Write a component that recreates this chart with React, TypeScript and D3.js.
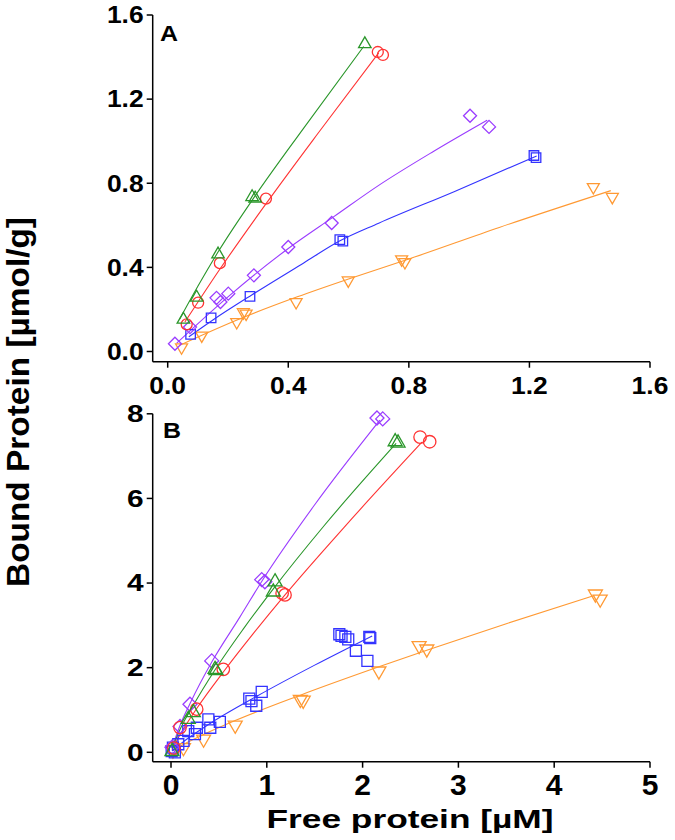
import React from "react";
import * as d3 from "d3";

type P = [number, number];

// ---------- Panel A data ----------
const greenA: P[] = [[0.052, 0.152], [0.096, 0.257], [0.167, 0.462], [0.28, 0.735], [0.29, 0.728], [0.654, 1.462]];
const redA: P[] = [[0.063, 0.129], [0.101, 0.232], [0.173, 0.42], [0.326, 0.727], [0.697, 1.424], [0.714, 1.41]];
const purpleA: P[] = [[0.024, 0.037], [0.074, 0.116], [0.162, 0.255], [0.175, 0.235], [0.201, 0.275], [0.286, 0.362], [0.40, 0.497], [0.544, 0.611], [1.003, 1.121], [1.066, 1.068]];
const blueA: P[] = [[0.076, 0.081], [0.144, 0.16], [0.273, 0.262], [0.571, 0.532], [0.581, 0.525], [1.215, 0.932], [1.222, 0.922]];
const orangeA: P[] = [[0.046, 0.02], [0.113, 0.076], [0.229, 0.14], [0.251, 0.187], [0.26, 0.18], [0.426, 0.235], [0.599, 0.338], [0.776, 0.438], [0.787, 0.425], [1.412, 0.782], [1.475, 0.735]];

const greenFitA: P[] = [[0.04, 0.155], [0.1, 0.31], [0.17, 0.48], [0.29, 0.74], [0.45, 1.06], [0.65, 1.45]];
const redFitA: P[] = [[0.057, 0.14], [0.17, 0.385], [0.33, 0.71], [0.5, 1.04], [0.70, 1.42]];
const purpleFitA: P[] = [[0.03, 0.04], [0.2, 0.26], [0.4, 0.49], [0.55, 0.64], [0.7, 0.79], [0.88, 0.95], [1.06, 1.10]];
const blueFitA: P[] = [[0.07, 0.07], [0.15, 0.15], [0.28, 0.27], [0.45, 0.42], [0.57, 0.525], [0.7, 0.61], [0.95, 0.76], [1.224, 0.93]];
const orangeFitA: P[] = [[0.04, 0.03], [0.23, 0.15], [0.43, 0.26], [0.6, 0.345], [0.79, 0.435], [1.1, 0.59], [1.47, 0.765]];

// ---------- Panel B data ----------
const purpleB: P[] = [[0.01, 0.12], [0.094, 0.61], [0.198, 1.136], [0.425, 2.16], [0.947, 4.08], [0.98, 4.03], [2.15, 7.9], [2.21, 7.88]];
const greenB: P[] = [[0.01, 0.02], [0.18, 0.78], [0.233, 0.94], [0.46, 1.96], [0.47, 1.93], [1.068, 3.79], [1.086, 4.03], [2.34, 7.34], [2.37, 7.31]];
const redB: P[] = [[0.03, 0.1], [0.094, 0.585], [0.268, 1.02], [0.546, 1.96], [1.16, 3.76], [1.19, 3.72], [2.60, 7.45], [2.70, 7.34]];
const blueB: P[] = [[0.04, 0.0], [0.007, 0.03], [0.02, 0.11], [0.076, 0.19], [0.13, 0.27], [0.18, 0.5], [0.25, 0.43], [0.27, 0.58], [0.39, 0.78], [0.41, 0.58], [0.51, 0.72], [0.817, 1.27], [0.84, 1.21], [0.89, 1.1], [0.947, 1.43], [1.757, 2.79], [1.78, 2.75], [1.82, 2.73], [1.85, 2.67], [1.93, 2.4], [2.05, 2.16], [2.07, 2.73], [2.08, 2.70]];
const orangeB: P[] = [[0.02, 0.05], [0.13, 0.11], [0.34, 0.31], [0.67, 0.64], [1.35, 1.25], [1.38, 1.23], [2.17, 1.92], [2.59, 2.52], [2.67, 2.44], [4.43, 3.74], [4.48, 3.62]];

const purpleFitB: P[] = [[0.01, 0.1], [0.1, 0.67], [0.2, 1.16], [0.43, 2.15], [0.72, 3.2], [0.95, 4.05], [1.5, 5.85], [2.18, 7.85]];
const greenFitB: P[] = [[0.01, 0.09], [0.1, 0.57], [0.23, 1.1], [0.46, 1.95], [0.75, 2.9], [1.07, 3.87], [1.6, 5.36], [2.35, 7.3]];
const redFitB: P[] = [[0.01, 0.06], [0.1, 0.44], [0.27, 1.04], [0.55, 1.91], [0.85, 2.78], [1.19, 3.72], [1.8, 5.3], [2.62, 7.33]];
const blueFitB: P[] = [[0.01, 0.03], [0.1, 0.2], [0.4, 0.67], [0.9, 1.33], [1.5, 2.06], [2.1, 2.75]];
const orangeFitB: P[] = [[0.02, 0.04], [0.1, 0.15], [0.35, 0.43], [0.67, 0.75], [1.35, 1.35], [2.17, 2.02], [2.67, 2.41], [3.5, 3.04], [4.41, 3.7]];

// ---------- ticks ----------
const xTicksA = [0, 0.4, 0.8, 1.2, 1.6];
const yTicksA = [0, 0.4, 0.8, 1.2, 1.6];
const xTicksB = [0, 1, 2, 3, 4, 5];
const yTicksB = [0, 2, 4, 6, 8];

const xTitle = "Free protein [µM]";
const yTitle = "Bound Protein [µmol/g]";

const C = {
  red: "#ff3333",
  green: "#2a962a",
  purple: "#9a3cff",
  blue: "#3333ff",
  orange: "#ff9933",
};

const FONT = "'Liberation Sans', Arial, Helvetica, sans-serif";

type Shape = "circle" | "tri" | "tridown" | "diamond" | "square";

function markerPath(shape: Shape, s: number): string {
  const p = d3.path();
  if (shape === "circle") {
    p.arc(0, 0, s / 2, 0, Math.PI * 2);
    p.closePath();
  } else if (shape === "square") {
    const h = s / 2;
    p.rect(-h, -h, s, s);
  } else if (shape === "diamond") {
    const h = s / 2;
    p.moveTo(0, -h); p.lineTo(h, 0); p.lineTo(0, h); p.lineTo(-h, 0); p.closePath();
  } else if (shape === "tri") {
    const h = (s * Math.sqrt(3)) / 2;
    p.moveTo(0, -h * 2 / 3); p.lineTo(s / 2, h / 3); p.lineTo(-s / 2, h / 3); p.closePath();
  } else {
    const h = (s * Math.sqrt(3)) / 2;
    p.moveTo(0, h * 2 / 3); p.lineTo(s / 2, -h / 3); p.lineTo(-s / 2, -h / 3); p.closePath();
  }
  return p.toString();
}

interface Series { pts: P[]; fit: P[]; color: string; shape: Shape; size: number; }

interface PanelProps {
  x: d3.ScaleLinear<number, number>;
  y: d3.ScaleLinear<number, number>;
  axisX: number;
  axisY: number;
  xTicks: number[];
  yTicks: number[];
  xFmt: (v: number) => string;
  yFmt: (v: number) => string;
  yTickFont: number;
  yTickStretch: number;
  xTickFont: number;
  xTickStretch: number;
  xTickBaseline: number;
  series: Series[];
  label: string;
  labelX: number;
  labelY: number;
}

function Panel(props: PanelProps) {
  const { x, y, axisX, axisY, xTicks, yTicks, series } = props;
  const line = d3.line<P>().x((d) => x(d[0])).y((d) => y(d[1])).curve(d3.curveMonotoneX);
  const xEnd = x.range()[1];
  const yTop = y(yTicks[yTicks.length - 1]);
  return (
    <g>
      {series.map((s, i) => (
        <path key={"f" + i} d={line(s.fit) || ""} fill="none" stroke={s.color} strokeWidth={1.1} />
      ))}
      {series.map((s, i) => (
        <g key={"m" + i}>
          {s.pts.map((d, j) => (
            <path key={j} d={markerPath(s.shape, s.size)} transform={`translate(${x(d[0])},${y(d[1])})`}
              fill="none" stroke={s.color} strokeWidth={1.3} />
          ))}
        </g>
      ))}
      {/* axes */}
      <line x1={axisX} x2={axisX} y1={yTop} y2={axisY} stroke="#000" strokeWidth={1.5} />
      <line x1={axisX} x2={xEnd} y1={axisY} y2={axisY} stroke="#000" strokeWidth={1.5} />
      {yTicks.map((t) => {
        const label = props.yFmt(t);
        const nat = label.length === 1 ? 0.556 : 1.39;
        return (
          <g key={"yt" + t}>
            <line x1={axisX - 6} x2={axisX} y1={y(t)} y2={y(t)} stroke="#000" strokeWidth={1.5} />
            <text x={axisX - 9} y={y(t) + props.yTickFont * 0.36} textAnchor="end"
              fontFamily={FONT} fontWeight="bold" fontSize={props.yTickFont}
              textLength={nat * props.yTickFont * props.yTickStretch} lengthAdjust="spacingAndGlyphs">{label}</text>
          </g>
        );
      })}
      {xTicks.map((t) => {
        const label = props.xFmt(t);
        const nat = label.length === 1 ? 0.556 : 1.39;
        return (
          <g key={"xt" + t}>
            <line x1={x(t)} x2={x(t)} y1={axisY} y2={axisY + 6} stroke="#000" strokeWidth={1.5} />
            <text x={x(t)} y={props.xTickBaseline} textAnchor="middle"
              fontFamily={FONT} fontWeight="bold" fontSize={props.xTickFont}
              textLength={nat * props.xTickFont * props.xTickStretch} lengthAdjust="spacingAndGlyphs">{label}</text>
          </g>
        );
      })}
      <text x={props.labelX} y={props.labelY} fontFamily={FONT} fontWeight="bold" fontSize={22}
        textLength={18} lengthAdjust="spacingAndGlyphs">{props.label}</text>
    </g>
  );
}

export default function App() {
  const xA = d3.scaleLinear().domain([0, 1.6]).range([167.7, 650]);
  const yA = d3.scaleLinear().domain([0, 1.6]).range([351.5, 15]);
  const xB = d3.scaleLinear().domain([0, 5]).range([171, 650]);
  const yB = d3.scaleLinear().domain([0, 8]).range([752.3, 413.8]);

  const seriesA: Series[] = [
    { pts: orangeA, fit: orangeFitA, color: C.orange, shape: "tridown", size: 12 },
    { pts: blueA, fit: blueFitA, color: C.blue, shape: "square", size: 9.5 },
    { pts: purpleA, fit: purpleFitA, color: C.purple, shape: "diamond", size: 13 },
    { pts: redA, fit: redFitA, color: C.red, shape: "circle", size: 11 },
    { pts: greenA, fit: greenFitA, color: C.green, shape: "tri", size: 12.5 },
  ];
  const seriesB: Series[] = [
    { pts: orangeB, fit: orangeFitB, color: C.orange, shape: "tridown", size: 14 },
    { pts: blueB, fit: blueFitB, color: C.blue, shape: "square", size: 11 },
    { pts: purpleB, fit: purpleFitB, color: C.purple, shape: "diamond", size: 14 },
    { pts: redB, fit: redFitB, color: C.red, shape: "circle", size: 12.5 },
    { pts: greenB, fit: greenFitB, color: C.green, shape: "tri", size: 14 },
  ];

  return (
    <svg width={675} height={840} viewBox="0 0 675 840"
      style={{ position: "absolute", left: 0, top: 0, display: "block", background: "#fff" }}>
      <rect x={0} y={0} width={675} height={840} fill="#fff" />
      <Panel x={xA} y={yA} axisX={152.7} axisY={361.7} xTicks={xTicksA} yTicks={yTicksA}
        xFmt={(v) => v.toFixed(1)} yFmt={(v) => v.toFixed(1)}
        yTickFont={23} yTickStretch={1.15} xTickFont={23} xTickStretch={1.15} xTickBaseline={393.5}
        series={seriesA} label="A" labelX={160} labelY={41} />
      <Panel x={xB} y={yB} axisX={152.7} axisY={761.7} xTicks={xTicksB} yTicks={yTicksB}
        xFmt={(v) => String(v)} yFmt={(v) => String(v)}
        yTickFont={23} yTickStretch={1.3} xTickFont={30} xTickStretch={1.0} xTickBaseline={795}
        series={seriesB} label="B" labelX={163} labelY={438} />
      <text x={410} y={828} textAnchor="middle" fontFamily={FONT} fontWeight="bold" fontSize={25}
        textLength={287} lengthAdjust="spacingAndGlyphs">{xTitle}</text>
      <text transform="translate(28.5,402) rotate(-90)" textAnchor="middle" fontFamily={FONT}
        fontWeight="bold" fontSize={31} textLength={370} lengthAdjust="spacingAndGlyphs">{yTitle}</text>
    </svg>
  );
}
